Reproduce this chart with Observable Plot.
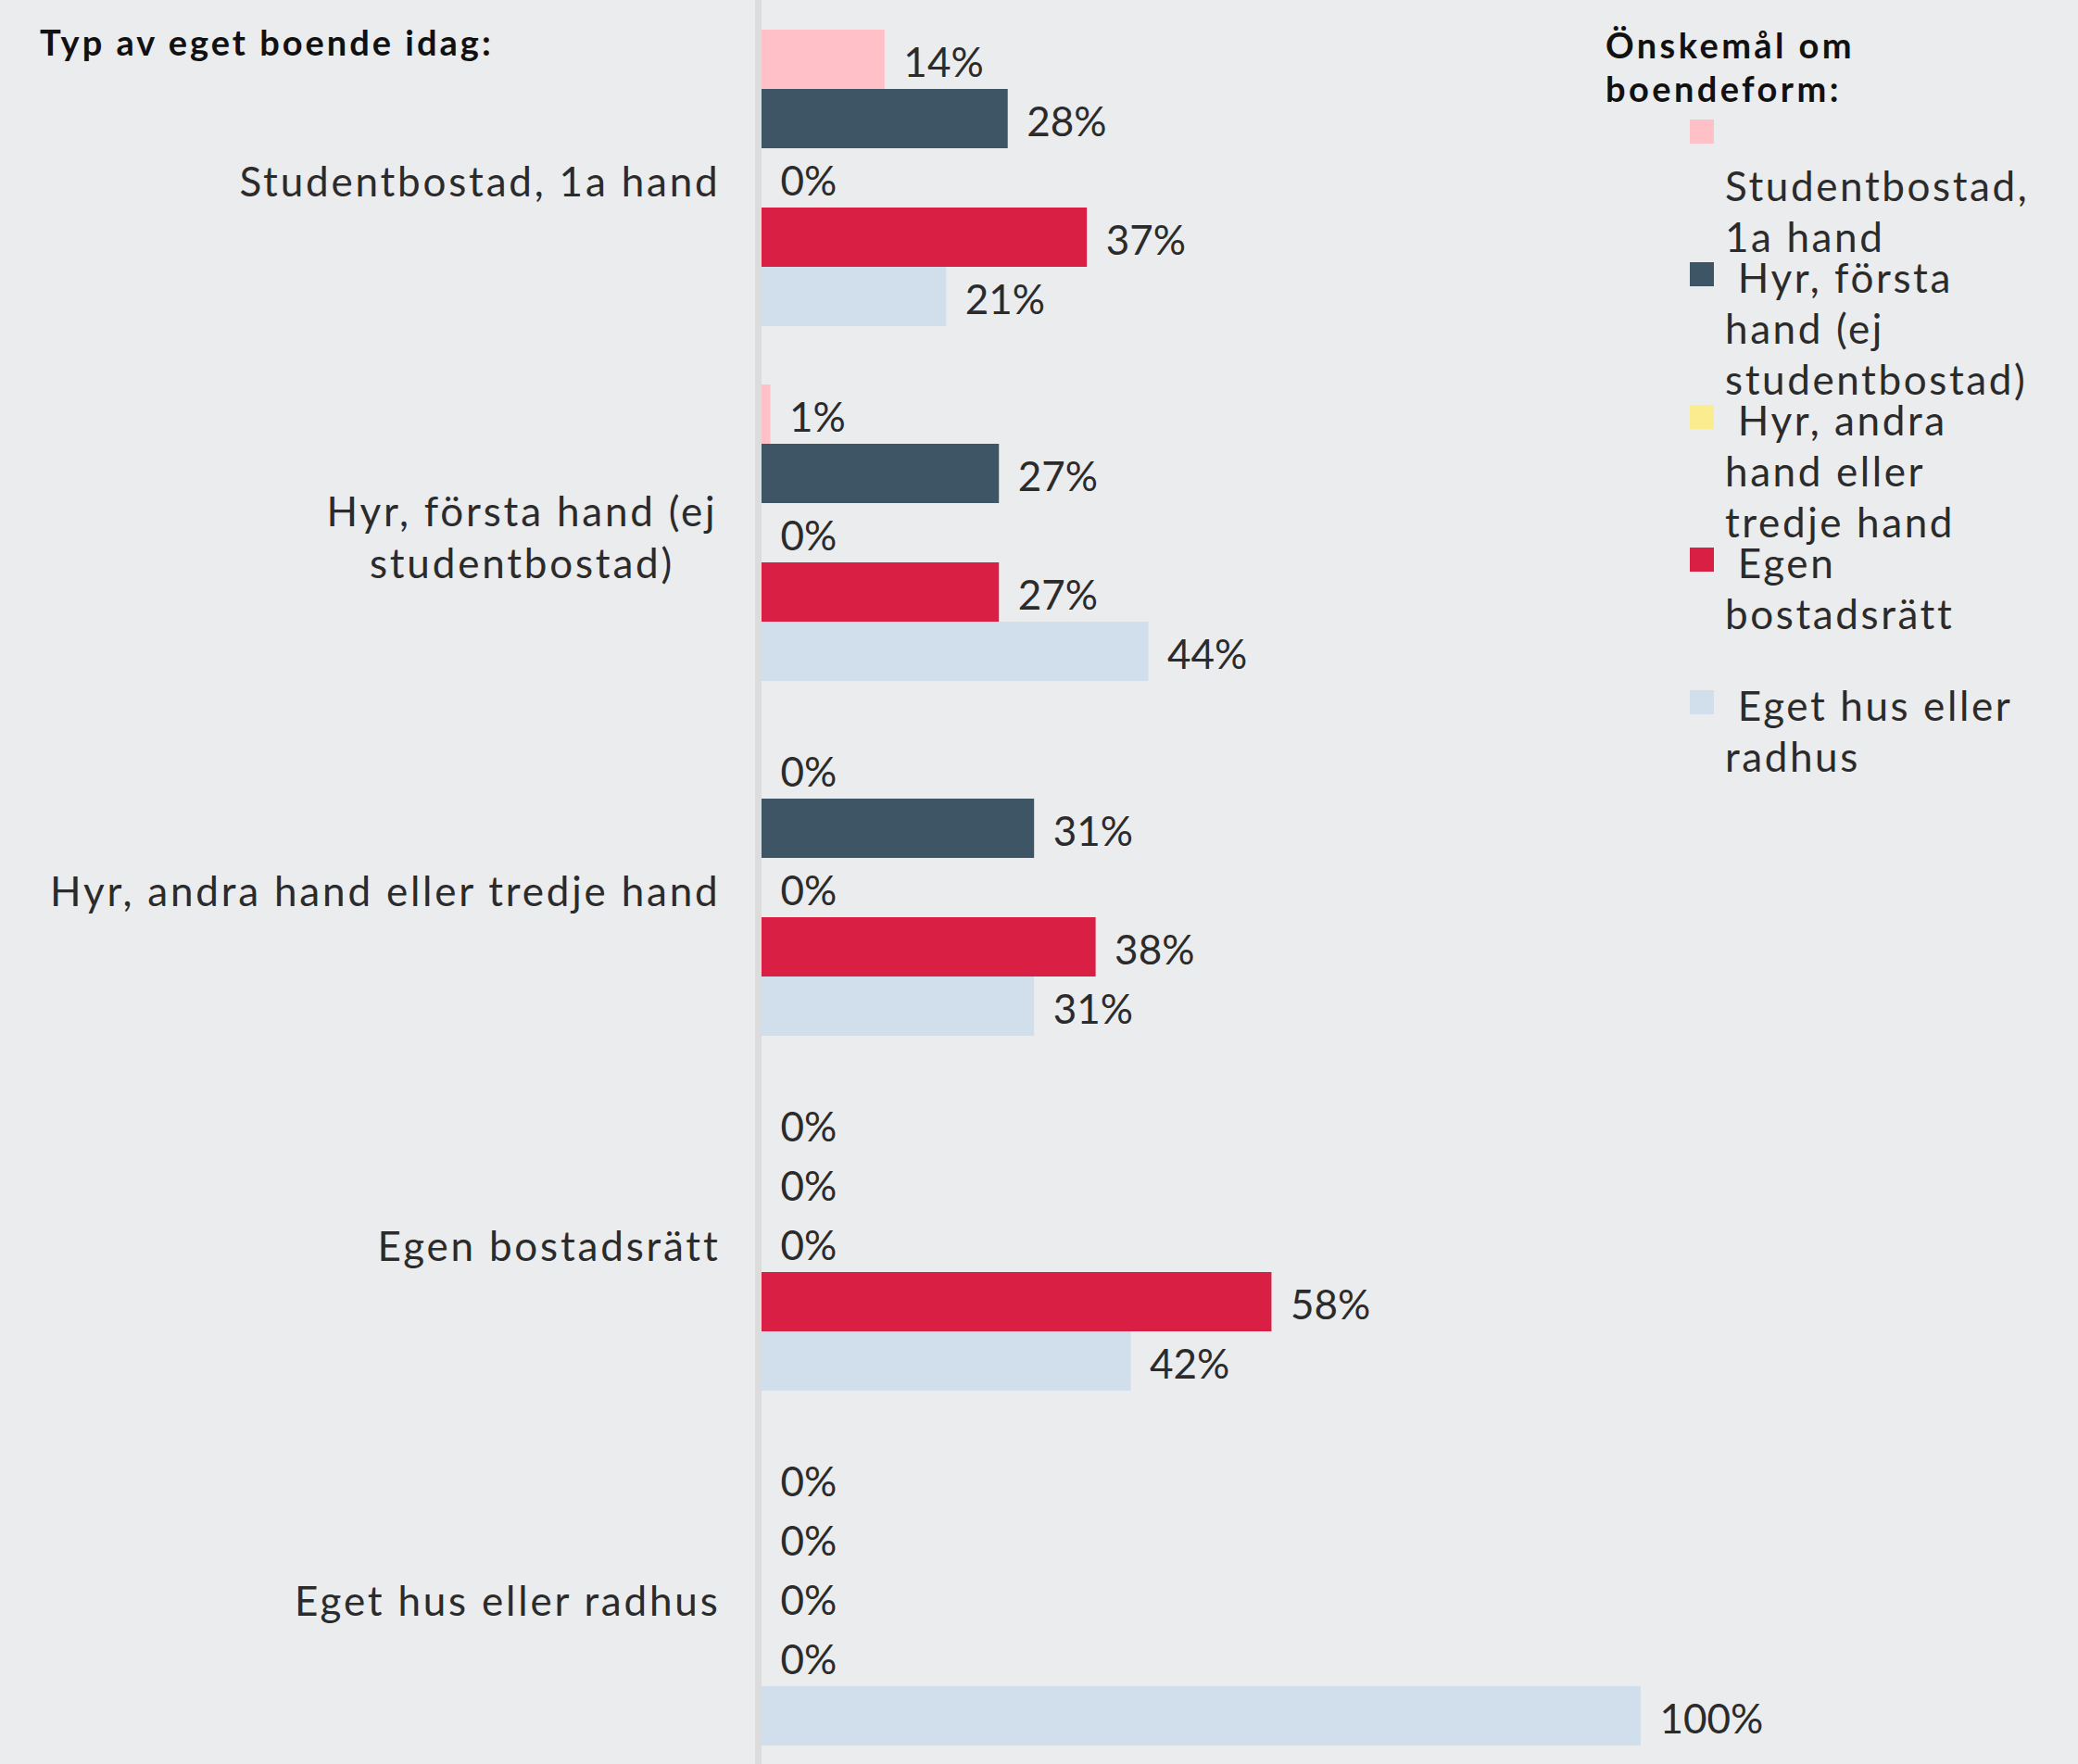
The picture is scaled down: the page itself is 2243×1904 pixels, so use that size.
<!DOCTYPE html>
<html>
<head>
<meta charset="utf-8">
<script src="https://cdn.jsdelivr.net/npm/d3@7"></script>
<script src="https://cdn.jsdelivr.net/npm/@observablehq/plot@0.6"></script>
<style>
  html, body { margin: 0; padding: 0; background: #EBECEE; overflow: hidden; }
  #wrap { position: relative; width: 2243px; height: 1904px; font-family: Lato, "Noto Sans", sans-serif; color: #2b2b2b; }
  #title { position: absolute; left: 43px; top: 22px; font-size: 38px; font-weight: 700; color: #111; line-height: 47px; white-space: nowrap; letter-spacing: 3px; }
  #legend-title { position: absolute; left: 1733px; top: 25px; font-size: 38px; font-weight: 700; color: #111; line-height: 47px; width: 400px; letter-spacing: 3.4px; }
  .item { position: absolute; left: 1824px; width: 420px; }
  .sw { position: absolute; left: 0; top: 0; width: 26px; height: 26px; }
  .lines { position: absolute; left: 38px; top: -11px; font-size: 44px; line-height: 55px; white-space: pre; letter-spacing: 2.6px; }
  #chart { position: absolute; left: 0; top: 0; }
  #chart g[text-anchor="end"] text, #chart tspan { letter-spacing: 2.8px; }
</style>
</head>
<body>
<div id="wrap">
  <div id="chart"></div>
  <div id="title"></div>
  <div id="legend-title"></div>
  <div id="legend"></div>
</div>
<script>
// Categories (current housing type) and series (desired housing type)
const groups = [
  "Studentbostad, 1a hand",
  "Hyr, första hand (ej studentbostad)",
  "Hyr, andra hand eller tredje hand",
  "Egen bostadsrätt",
  "Eget hus eller radhus"
];
const series = [
  "Studentbostad, 1a hand",
  "Hyr, första hand (ej studentbostad)",
  "Hyr, andra hand eller tredje hand",
  "Egen bostadsrätt",
  "Eget hus eller radhus"
];
// Values per series, in the order of groups (percent)
const studentbostad = [14, 1, 0, 0, 0];
const hyrForsta     = [28, 27, 31, 0, 0];
const hyrAndra      = [0, 0, 0, 0, 0];
const egenBostadsratt = [37, 27, 38, 58, 0];
const egetHus       = [21, 44, 31, 42, 100];
const colors = ["#FFC1C7", "#3E5566", "#FBEC8F", "#D91F44", "#D1DEEC"];

const titleText = "Typ av eget boende idag:";
const legendTitle = "Önskemål om\nboendeform:";
// legend text as wrapped in the reference
const legendLines = [
  ["", "Studentbostad,", "1a hand"],
  [" Hyr, första", "hand (ej", "studentbostad)"],
  [" Hyr, andra", "hand eller", "tredje hand"],
  [" Egen", "bostadsrätt"],
  [" Eget hus eller", "radhus"]
];
const wrappedGroupLabels = {"Hyr, första hand (ej studentbostad)": "Hyr, första hand (ej\nstudentbostad)"};

const valueSeries = [studentbostad, hyrForsta, hyrAndra, egenBostadsratt, egetHus];
const data = groups.flatMap((g, gi) => series.map((s, si) => ({group: g, series: s, value: valueSeries[si][gi]})));

const chart = Plot.plot({
  width: 2243,
  height: 1904,
  marginLeft: 822,
  marginRight: 472,
  marginTop: 30,
  marginBottom: 19,
  style: {background: "transparent", fontFamily: "Lato, 'Noto Sans', sans-serif", color: "#2b2b2b", overflow: "visible"},
  x: {domain: [0, 100], axis: null},
  y: {domain: series, axis: null, paddingInner: 0, paddingOuter: 0},
  fy: {domain: groups, axis: null, paddingInner: 0.16, paddingOuter: 0},
  color: {domain: series, range: colors},
  marks: [
    Plot.ruleX([0], {stroke: "#DCDCDD", strokeWidth: 7, dx: -4, insetTop: -32, insetBottom: -32}),
    Plot.barX(data, {x: "value", y: "series", fy: "group", fill: "series"}),
    Plot.text(data, {x: "value", y: "series", fy: "group", text: d => d.value + "%", textAnchor: "start", dx: 20, dy: 4, fontSize: 44, fill: "#2b2b2b"}),
    Plot.text(groups, {filter: d => !wrappedGroupLabels[d], fy: d => d, frameAnchor: "left", text: d => d, textAnchor: "end", dx: -45, dy: 5, fontSize: 44, fill: "#2b2b2b"}),
    Plot.text(groups, {filter: d => wrappedGroupLabels[d], fy: d => d, frameAnchor: "left", text: d => wrappedGroupLabels[d], textAnchor: "middle", dx: -259, dy: 3, fontSize: 44, lineHeight: 1.27, fill: "#2b2b2b"})
  ]
});
document.getElementById("chart").appendChild(chart);

document.getElementById("title").textContent = titleText;
const lt = document.getElementById("legend-title");
lt.style.whiteSpace = "pre";
lt.textContent = legendTitle;

const legend = document.getElementById("legend");
series.forEach((s, i) => {
  const item = document.createElement("div");
  item.className = "item";
  item.style.top = (129 + 154 * i) + "px";
  const sw = document.createElement("div");
  sw.className = "sw";
  sw.style.background = colors[i];
  item.appendChild(sw);
  const lines = document.createElement("div");
  lines.className = "lines";
  lines.textContent = legendLines[i].join("\n");
  item.appendChild(lines);
  legend.appendChild(item);
});
</script>
</body>
</html>
